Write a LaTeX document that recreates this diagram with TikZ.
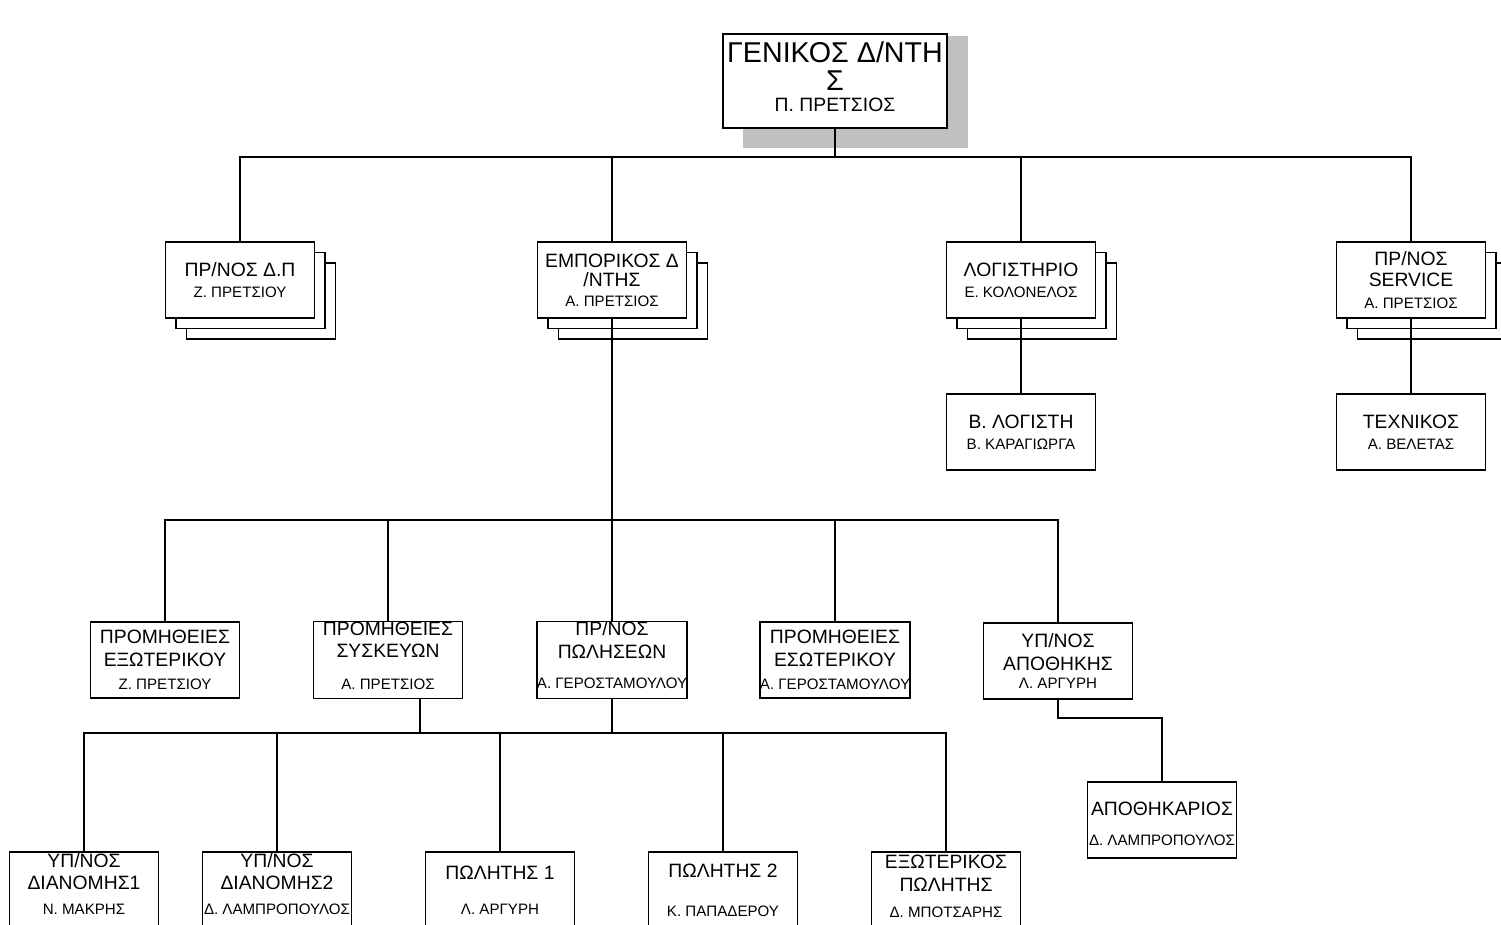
\documentclass[tikz,border=0pt]{standalone}
\usepackage{fontspec}
\setmainfont{Liberation Sans}
\usetikzlibrary{positioning,calc,shadows}
\definecolor{shadowgray}{RGB}{192,192,192}
\newcommand{\titlefont}{\fontsize{16.3}{17}\selectfont}
\newcommand{\rolefont}{\fontsize{11}{13}\selectfont}
\newcommand{\namefont}{\fontsize{8.6}{10}\selectfont}

\begin{document}
\begin{tikzpicture}[x=0.02cm, y=-0.02cm,
    box/.style={rectangle, draw, fill=white, line width=0.9pt, minimum width=2.98cm, minimum height=1.52cm, inner sep=0pt, align=center, font=\rolefont},
    stack/.style={box, copy shadow={shadow xshift=12pt, shadow yshift=-12pt}, copy shadow={shadow xshift=6pt, shadow yshift=-6pt}},
    link/.style={line width=0.9pt}
]
\useasboundingbox (0,0) rectangle (1501,924);
\clip (0,0) rectangle (1501,924);

% Genikos
\fill[shadowgray] (743,36) rectangle (968,148);
\node (gm) [box, line width=1pt, minimum width=4.48cm, minimum height=1.88cm] at (835,81) {\titlefont ΓΕΝΙΚΟΣ Δ/ΝΤΗ\\[3pt]\titlefont Σ\\[-1pt]Π. ΠΡΕΤΣΙΟΣ\\[-8pt]{}};

% Diefthynseis
\node (dp) [stack] at (240,280) {ΠΡ/ΝΟΣ Δ.Π\\[-1pt]\namefont Ζ. ΠΡΕΤΣΙΟΥ};
\node (emp) [stack] at (612,280) {ΕΜΠΟΡΙΚΟΣ Δ\\[-2pt]/ΝΤΗΣ\\[-2pt]\namefont Α. ΠΡΕΤΣΙΟΣ};
\node (log) [stack] at (1021,280) {ΛΟΓΙΣΤΗΡΙΟ\\[-1pt]\namefont Ε. ΚΟΛΟΝΕΛΟΣ};
\node (srv) [stack] at (1411,280) {ΠΡ/ΝΟΣ\\[-1pt]SERVICE\\[-1pt]\namefont Α. ΠΡΕΤΣΙΟΣ};
\node (bl) [box] at (1021,432) {Β. ΛΟΓΙΣΤΗ\\[-1pt]\namefont Β. ΚΑΡΑΓΙΩΡΓΑ};
\node (tech) [box] at (1411,432) {ΤΕΧΝΙΚΟΣ\\[-1pt]\namefont Α. ΒΕΛΕΤΑΣ};

% Emporiko tmima
\node (pe) [box] at (165,660) {ΠΡΟΜΗΘΕΙΕΣ\\ΕΞΩΤΕΡΙΚΟΥ\\\namefont Ζ. ΠΡΕΤΣΙΟΥ};
\node (ps) [box] at (388,660) {ΠΡΟΜΗΘΕΙΕΣ\\ΣΥΣΚΕΥΩΝ\\[5pt]\namefont Α. ΠΡΕΤΣΙΟΣ\\[-8pt]{}};
\node (pp) [box] at (612,660) {ΠΡ/ΝΟΣ\\ΠΩΛΗΣΕΩΝ\\[4pt]\namefont Α. ΓΕΡΟΣΤΑΜΟΥΛΟΥ\\[-7pt]{}};
\node (pes) [box] at (835,660) {ΠΡΟΜΗΘΕΙΕΣ\\ΕΣΩΤΕΡΙΚΟΥ\\\namefont Α. ΓΕΡΟΣΤΑΜΟΥΛΟΥ};
\node (ypa) [box] at (1058,661) {ΥΠ/ΝΟΣ\\ΑΠΟΘΗΚΗΣ\\[-3pt]\namefont Λ. ΑΡΓΥΡΗ};
\node (apo) [box] at (1162,820) {{}\\[-1pt]ΑΠΟΘΗΚΑΡΙΟΣ\\[4pt]\namefont Δ. ΛΑΜΠΡΟΠΟΥΛΟΣ};

% Poliseis
\node (yd1) [box] at (84,890) {ΥΠ/ΝΟΣ\\ΔΙΑΝΟΜΗΣ1\\[1pt]\namefont Ν. ΜΑΚΡΗΣ\\[-6pt]{}};
\node (yd2) [box] at (277,890) {ΥΠ/ΝΟΣ\\ΔΙΑΝΟΜΗΣ2\\[1pt]\namefont Δ. ΛΑΜΠΡΟΠΟΥΛΟΣ\\[-6pt]{}};
\node (p1) [box] at (500,890) {ΠΩΛΗΤΗΣ 1\\[7pt]\namefont Λ. ΑΡΓΥΡΗ};
\node (p2) [box] at (723,890) {ΠΩΛΗΤΗΣ 2\\[9pt]\namefont Κ. ΠΑΠΑΔΕΡΟΥ};
\node (ext) [box] at (946,890) {ΕΞΩΤΕΡΙΚΟΣ\\ΠΩΛΗΤΗΣ\\[2pt]\namefont Δ. ΜΠΟΤΣΑΡΗΣ\\[-9pt]{}};

% Syndeseis
\coordinate (gmbus) at (835,157);
\draw[link] (gm.south) -- (gmbus);
\draw[link] (dp.north) |- (gmbus) -| (srv.north);
\draw[link] (emp.north) -- (emp.north |- gmbus);
\draw[link] (log.north) -- (log.north |- gmbus);
\draw[link] (log.south) -- (bl.north);
\draw[link] (srv.south) -- (tech.north);

\coordinate (empbus) at (612,520);
\draw[link] (emp.south) -- (empbus);
\draw[link] (pe.north) |- (empbus) -| (ypa.north);
\foreach \n in {ps,pp,pes} \draw[link] (\n.north) -- (\n.north |- empbus);

\coordinate (salesbus) at (612,733);
\coordinate (psfoot) at ($(ps.south)+(32,0)$);
\draw[link] (pp.south) -- (salesbus);
\draw[link] (psfoot) -- (psfoot |- salesbus);
\draw[link] (yd1.north) |- (salesbus) -| (ext.north);
\foreach \n in {yd2,p1,p2} \draw[link] (\n.north) -- (\n.north |- salesbus);

\draw[link] (ypa.south) -- ++(0,18) -| (apo.north);

\end{tikzpicture}
\end{document}
